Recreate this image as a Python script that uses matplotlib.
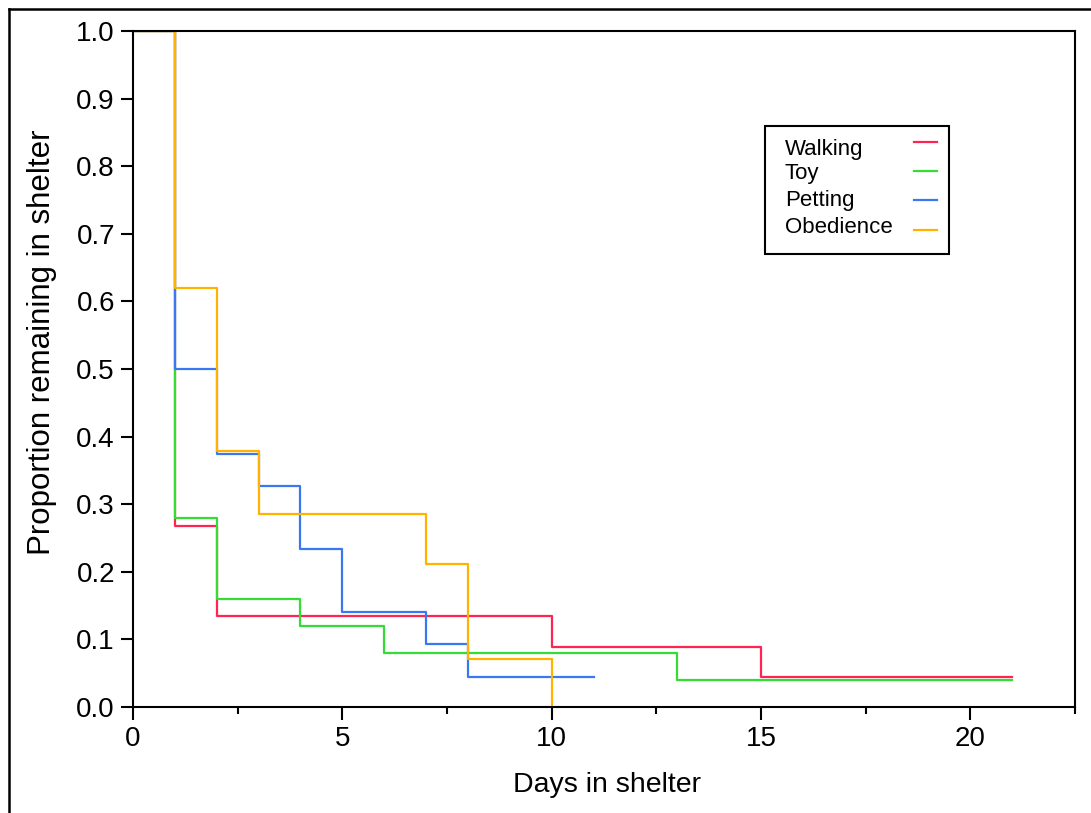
import matplotlib.pyplot as plt
from matplotlib.lines import Line2D
from matplotlib.patches import Rectangle
from matplotlib.ticker import MultipleLocator

plt.rcParams['font.family'] = ['Liberation Sans', 'DejaVu Sans']

groups = ["Walking", "Toy", "Petting", "Obedience"]
colors = ["#ff2451", "#33dd33", "#3a78f2", "#ffb200"]

walk_days = [0, 1, 2, 10, 15, 21]
walk_prop = [1.0, 0.268, 0.134, 0.089, 0.045, 0.045]

toy_days = [0, 1, 2, 4, 6, 13, 21]
toy_prop = [1.0, 0.28, 0.16, 0.12, 0.08, 0.04, 0.04]

pet_days = [0, 1, 2, 3, 4, 5, 7, 8, 11]
pet_prop = [1.0, 0.5, 0.374, 0.327, 0.233, 0.14, 0.093, 0.045, 0.045]

obed_days = [0, 1, 2, 3, 7, 8, 10]
obed_prop = [1.0, 0.62, 0.378, 0.286, 0.212, 0.071, 0.0]

series = [(walk_days, walk_prop), (toy_days, toy_prop),
          (pet_days, pet_prop), (obed_days, obed_prop)]

fig = plt.figure(figsize=(10.91, 8.13), dpi=100)
ax = fig.add_axes([0.1219, 0.1304, 0.8634, 0.8315])

for (d, p), c, name in zip(series, colors, groups):
    ax.step(d, p, where='post', color=c, lw=1.6, label=name)

ax.set_xlim(0, 22.5)
ax.set_ylim(0, 1.0)
ax.xaxis.set_major_locator(MultipleLocator(5))
ax.xaxis.set_minor_locator(MultipleLocator(2.5))
ax.yaxis.set_major_locator(MultipleLocator(0.1))
ax.yaxis.set_major_formatter(plt.FormatStrFormatter('%.1f'))
ax.tick_params(which='major', direction='out', length=9, width=1.5, labelsize=20, colors='black')
ax.tick_params(axis='x', which='major', pad=5)
ax.tick_params(axis='y', which='major', pad=4)
ax.tick_params(which='minor', direction='out', length=5, width=1.5)
for s in ax.spines.values():
    s.set_linewidth(1.5)

ax.set_xlabel("Days in shelter", fontsize=20.5, va='center')
ax.set_ylabel("Proportion remaining in shelter", fontsize=22.5, va='center')
ax.xaxis.set_label_coords(0.503, -0.115)
ax.yaxis.set_label_coords(-0.0966, 0.540)

# legend box: labels on the left, line samples on the right
ax.add_patch(Rectangle((0.6709, 0.6701), 0.1953, 0.1894, transform=ax.transAxes,
                       facecolor='white', edgecolor='black', lw=1.5, zorder=5))
text_y = [0.8254, 0.7885, 0.7485, 0.7100]
line_y = [0.8358, 0.7930, 0.7500, 0.7060]
for name, c, ty, ly in zip(groups, colors, text_y, line_y):
    ax.text(0.692, ty, name, transform=ax.transAxes, fontsize=16,
            ha='left', va='center', zorder=6)
    ax.add_line(Line2D([0.829, 0.854], [ly, ly], color=c, lw=1.6,
                       transform=ax.transAxes, zorder=6))

# outer frame lines (top and left)
fig.add_artist(Line2D([0.0085, 1.0], [0.989, 0.989], color='black', lw=1.8, transform=fig.transFigure))
fig.add_artist(Line2D([0.0085, 0.0085], [0.0, 0.989], color='black', lw=1.8, transform=fig.transFigure))

fig.savefig("out.png", dpi=100)
